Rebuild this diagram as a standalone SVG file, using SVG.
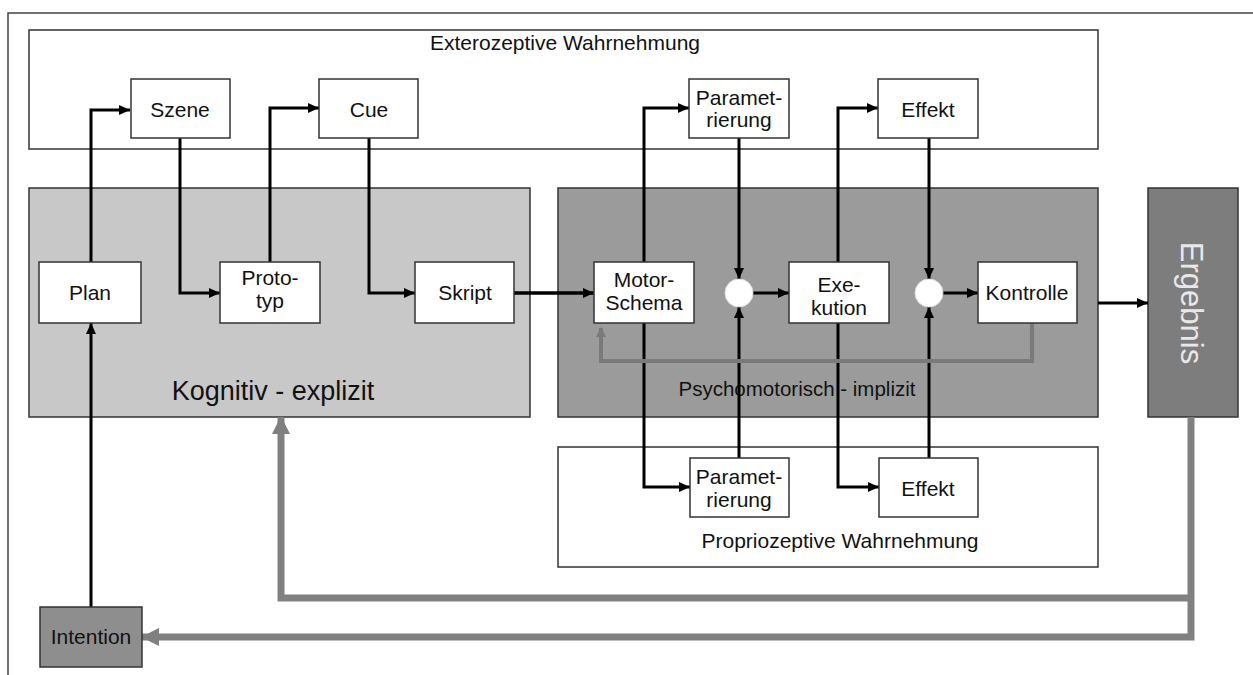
<svg xmlns="http://www.w3.org/2000/svg" width="1253" height="675" viewBox="0 0 1253 675">
<style>
text{font-family:"Liberation Sans",Arial,sans-serif;fill:#111;}
.lbl{font-size:21px;text-anchor:middle;}
.box{fill:#fff;stroke:#333;stroke-width:1.5;}
.region{stroke:#333;stroke-width:1.5;}
.c{fill:none;stroke:#000;stroke-width:3;}
.g{fill:none;stroke:#808080;stroke-width:7;}
.gs{fill:none;stroke:#7a7a7a;stroke-width:4;}
</style>
<defs>
<marker id="ah" markerUnits="userSpaceOnUse" markerWidth="11" markerHeight="10" refX="11" refY="5" orient="auto"><path d="M0,0 L11,5 L0,10 z" fill="#000"/></marker>
<marker id="gah" markerUnits="userSpaceOnUse" markerWidth="18" markerHeight="18" refX="17" refY="9" orient="auto"><path d="M0,0 L18,9 L0,18 z" fill="#808080"/></marker>
<marker id="gsh" markerUnits="userSpaceOnUse" markerWidth="10" markerHeight="10" refX="9" refY="5" orient="auto"><path d="M0,0 L10,5 L0,10 z" fill="#7a7a7a"/></marker>
</defs>
<rect width="1253" height="675" fill="#fff"/>
<path d="M1253,13 H8 V675" fill="none" stroke="#444" stroke-width="1.5"/>

<g id="exterozeptive">
<rect class="region" x="29" y="30" width="1069" height="119" fill="#fff"/>
<text x="565" y="50" style="font-size:21px;text-anchor:middle">Exterozeptive Wahrnehmung</text>
</g>
<g id="kognitiv">
<rect class="region" x="29" y="188" width="501" height="229" fill="#c8c8c8"/>
<text x="273" y="400" style="font-size:27px;text-anchor:middle">Kognitiv - explizit</text>
</g>
<g id="psychomotorisch">
<rect class="region" x="558" y="188" width="540" height="229" fill="#9b9b9b"/>
<text x="797" y="396" style="font-size:20.5px;text-anchor:middle">Psychomotorisch - implizit</text>
</g>
<g id="propriozeptiv">
<rect class="region" x="558" y="447" width="540" height="120" fill="#fff"/>
<text x="840" y="548" style="font-size:21px;text-anchor:middle">Propriozeptive Wahrnehmung</text>
</g>
<g id="ergebnis">
<rect class="region" x="1148" y="188" width="90" height="229" fill="#7d7d7d"/>
<text transform="translate(1181,303) rotate(90)" style="font-size:31px;text-anchor:middle;fill:#e8e8e8">Ergebnis</text>
</g>

<g id="connectors">
<path class="c" d="M91,262 V110 H130" marker-end="url(#ah)"/>
<path class="c" d="M180,138 V293 H220" marker-end="url(#ah)"/>
<path class="c" d="M270,262 V108 H319" marker-end="url(#ah)"/>
<path class="c" d="M369,138 V293 H415" marker-end="url(#ah)"/>
<path class="c" d="M514,293 H594" marker-end="url(#ah)" style="stroke-width:3.5"/>
<path class="c" d="M644,262 V108 H689" marker-end="url(#ah)"/>
<path class="c" d="M739,138 V279" marker-end="url(#ah)"/>
<path class="c" d="M739,458 V307" marker-end="url(#ah)"/>
<path class="c" d="M753,293 H789" marker-end="url(#ah)"/>
<path class="c" d="M838,262 V108 H878" marker-end="url(#ah)"/>
<path class="c" d="M929,138 V279" marker-end="url(#ah)"/>
<path class="c" d="M929,458 V307" marker-end="url(#ah)"/>
<path class="c" d="M943,293 H978" marker-end="url(#ah)"/>
<path class="c" d="M644,323 V487 H690" marker-end="url(#ah)"/>
<path class="c" d="M838,323 V487 H879" marker-end="url(#ah)"/>
<path class="c" d="M1098,303 H1148" marker-end="url(#ah)"/>
<path class="c" d="M91,607 V323" marker-end="url(#ah)"/>
<path class="gs" d="M1032,323 V361 H601 V328" marker-end="url(#gsh)"/>
<path class="g" d="M1191,417 V637 H142" marker-end="url(#gah)"/>
<path class="g" d="M1191,598 H281 V417" marker-end="url(#gah)"/>
</g>

<g id="szene"><rect class="box" x="131" y="79" width="99" height="59"/><text class="lbl" x="180" y="117">Szene</text></g>
<g id="cue"><rect class="box" x="319" y="79" width="99" height="59"/><text class="lbl" x="369" y="117">Cue</text></g>
<g id="param-oben"><rect class="box" x="689" y="79" width="100" height="59"/><text class="lbl" x="739" y="105">Paramet-</text><text class="lbl" x="739" y="127">rierung</text></g>
<g id="effekt-oben"><rect class="box" x="878" y="79" width="100" height="59"/><text class="lbl" x="928" y="117">Effekt</text></g>
<g id="plan"><rect class="box" x="39" y="262" width="102" height="61"/><text class="lbl" x="90" y="300">Plan</text></g>
<g id="prototyp"><rect class="box" x="220" y="262" width="100" height="61"/><text class="lbl" x="270" y="285">Proto-</text><text class="lbl" x="270" y="308">typ</text></g>
<g id="skript"><rect class="box" x="415" y="262" width="99" height="61"/><text class="lbl" x="465" y="300">Skript</text></g>
<g id="motorschema"><rect class="box" x="594" y="262" width="100" height="61"/><text class="lbl" x="644" y="287">Motor-</text><text class="lbl" x="644" y="310">Schema</text></g>
<g id="summe1"><circle cx="739" cy="293" r="14" fill="#fff" stroke="#ddd" stroke-width="1"/></g>
<g id="exekution"><rect class="box" x="789" y="262" width="100" height="61"/><text class="lbl" x="839" y="292">Exe-</text><text class="lbl" x="839" y="315">kution</text></g>
<g id="summe2"><circle cx="929" cy="293" r="14" fill="#fff" stroke="#ddd" stroke-width="1"/></g>
<g id="kontrolle"><rect class="box" x="978" y="262" width="99" height="61"/><text class="lbl" x="1027" y="300">Kontrolle</text></g>
<g id="param-unten"><rect class="box" x="690" y="458" width="99" height="59"/><text class="lbl" x="739" y="484">Paramet-</text><text class="lbl" x="739" y="507">rierung</text></g>
<g id="effekt-unten"><rect class="box" x="879" y="458" width="99" height="59"/><text class="lbl" x="928" y="496">Effekt</text></g>
<g id="intention"><rect x="40" y="607" width="102" height="60" fill="#8e8e8e" stroke="#333" stroke-width="1.5"/><text class="lbl" x="91" y="644">Intention</text></g>
</svg>
